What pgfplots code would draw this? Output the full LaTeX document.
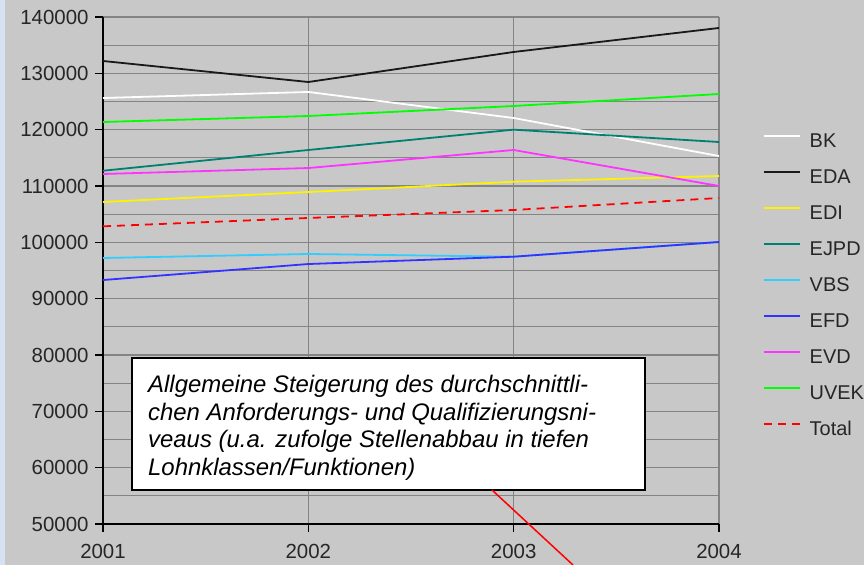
\documentclass[border=0pt]{standalone}
\usepackage{pgfplots}
\pgfplotsset{compat=1.18}
\usepackage{fontspec}
\setmainfont{Liberation Sans}
\definecolor{bg}{RGB}{200,200,200}
\definecolor{strip}{RGB}{212,226,242}
\definecolor{gridc}{RGB}{132,132,132}
\definecolor{cEJPD}{RGB}{0,128,112}
\definecolor{cVBS}{RGB}{51,204,255}
\definecolor{cEFD}{RGB}{51,51,255}
\definecolor{cEVD}{RGB}{255,51,255}
\definecolor{cUVEK}{RGB}{0,255,0}
\begin{document}
\begin{tikzpicture}
\useasboundingbox (0,0) rectangle (864bp,565bp);
\fill[bg] (0,0) rectangle (864bp,565bp);
\fill[strip] (0,0) rectangle (5bp,565bp);
\begin{axis}[
  at={(103bp,41bp)}, anchor=south west,
  scale only axis, width=616bp, height=507bp,
  xmin=2001, xmax=2004, ymin=50000, ymax=140000,
  xtick={2001,2002,2003,2004},
  xticklabels={2001,2002,2003,2004},
  ytick={50000,60000,70000,80000,90000,100000,110000,120000,130000,140000},
  yticklabels={50000,60000,70000,80000,90000,100000,110000,120000,130000,140000},
  minor ytick={55000,65000,75000,85000,95000,105000,115000,125000,135000},
  scaled y ticks=false, scaled x ticks=false,
  axis x line*=bottom, axis y line*=left,
  axis line style={-, black, line width=1.5bp},
  xmajorgrids, ymajorgrids, yminorgrids,
  major grid style={gridc, line width=1.2bp},
  minor grid style={gridc, line width=1.2bp},
  tick align=outside, major tick length=8bp, minor tick length=0pt,
  major tick style={black, line width=1.2bp},
  ticklabel style={font=\fontsize{20.5}{24}\selectfont, text=black!85},
  xticklabel style={yshift=-9bp},
  yticklabel style={xshift=-3bp},
  legend style={at={(axis description cs:1.071,0.773)}, anchor=north west,
    draw=none, fill=none, inner sep=0pt, row sep=17bp, column sep=9bp,
    font=\fontsize{20}{24}\selectfont,
    nodes={inner sep=0pt, text=black!85, text height=15bp, text depth=4bp}},
  legend cell align=left,
  legend image code/.code={\draw[line width=1.8bp,#1] (0bp,6bp) -- (36bp,6bp);},
  every axis plot/.append style={line width=1.8bp},
  clip=false,
]
\addplot[white] coordinates {(2001,125620) (2002,126690) (2003,122070) (2004,115320)};
\addlegendentry{BK}
\addplot[black!90] coordinates {(2001,132190) (2002,128460) (2003,133790) (2004,138050)};
\addlegendentry{EDA}
\addplot[yellow] coordinates {(2001,107160) (2002,108930) (2003,110760) (2004,111770)};
\addlegendentry{EDI}
\addplot[cEJPD] coordinates {(2001,112710) (2002,116390) (2003,120000) (2004,117810)};
\addlegendentry{EJPD}
\addplot[cVBS] coordinates {(2001,97220) (2002,97930) (2003,97450) (2004,100060)};
\addlegendentry{VBS}
\addplot[cEFD] coordinates {(2001,93310) (2002,96150) (2003,97450) (2004,100060)};
\addlegendentry{EFD}
\addplot[cEVD] coordinates {(2001,112130) (2002,113190) (2003,116390) (2004,110000)};
\addlegendentry{EVD}
\addplot[cUVEK] coordinates {(2001,121360) (2002,122425) (2003,124200) (2004,126330)};
\addlegendentry{UVEK}
\addplot[red, dash pattern=on 8bp off 6bp] coordinates {(2001,102840) (2002,104320) (2003,105740) (2004,107870)};
\addlegendentry{Total}
\end{axis}
\draw[black, line width=1.5bp, fill=white] (132bp,75bp) rectangle (645bp,207bp);
\node[anchor=north west, align=left, inner sep=0pt,
  font=\itshape\fontsize{24}{27.6}\selectfont] at (148bp,190bp)
  {Allgemeine Steigerung des durchschnittli-\\
   chen Anforderungs- und Qualifizierungsni-\\
   veaus (u.a. zufolge Stellenabbau in tiefen\\
   Lohnklassen/Funktionen)};
\draw[red, line width=1.5bp] (492bp,75bp) -- (573bp,0bp);
\end{tikzpicture}
\end{document}
